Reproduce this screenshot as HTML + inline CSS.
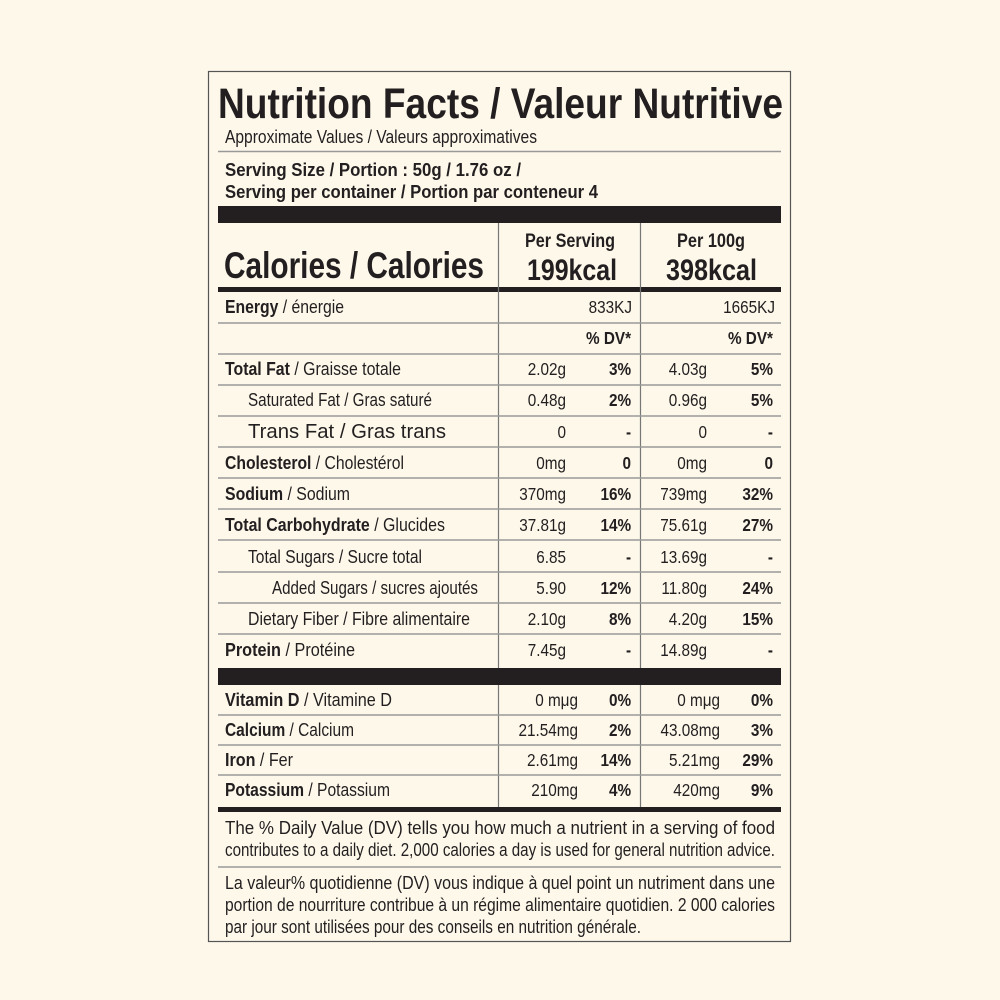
<!DOCTYPE html>
<html><head><meta charset="utf-8"><style>
html,body{margin:0;padding:0;background:#fdf8ea;}
svg{display:block}
text{font-family:"Liberation Sans",sans-serif;fill:#231f20;}
.b{font-weight:bold}
</style></head><body>
<svg width="1000" height="1000" viewBox="0 0 1000 1000" xmlns="http://www.w3.org/2000/svg">
<rect x="0" y="0" width="1000" height="1000" fill="#fdf8ea"/>
<rect x="208.5" y="71.5" width="582" height="870" fill="none" stroke="#555" stroke-width="1.2"/>
<text class="b" x="218" y="118" font-size="43" textLength="565" lengthAdjust="spacingAndGlyphs">Nutrition Facts / Valeur Nutritive</text>
<text x="225" y="143" font-size="18" textLength="312" lengthAdjust="spacingAndGlyphs">Approximate Values / Valeurs approximatives</text>
<line x1="218" y1="151.5" x2="781" y2="151.5" stroke="#999" stroke-width="1.5"/>
<text class="b" x="225" y="176" font-size="18" textLength="296" lengthAdjust="spacingAndGlyphs">Serving Size / Portion : 50g / 1.76 oz /</text>
<text class="b" x="225" y="198" font-size="18" textLength="373" lengthAdjust="spacingAndGlyphs">Serving per container / Portion par conteneur  4</text>
<rect x="218" y="206" width="563" height="17" fill="#231f20"/>
<text class="b" x="224" y="278" font-size="37" textLength="260" lengthAdjust="spacingAndGlyphs">Calories / Calories</text>
<text class="b" x="525" y="247" font-size="19" textLength="90" lengthAdjust="spacingAndGlyphs">Per Serving</text>
<text class="b" x="527" y="280" font-size="30" textLength="90" lengthAdjust="spacingAndGlyphs">199kcal</text>
<text class="b" x="677" y="247" font-size="19" textLength="68" lengthAdjust="spacingAndGlyphs">Per 100g</text>
<text class="b" x="666" y="280" font-size="30" textLength="91" lengthAdjust="spacingAndGlyphs">398kcal</text>
<rect x="218" y="287" width="563" height="5" fill="#231f20"/>
<line x1="498.5" y1="223" x2="498.5" y2="807" stroke="#777" stroke-width="1.2"/>
<line x1="640.5" y1="223" x2="640.5" y2="807" stroke="#777" stroke-width="1.2"/>
<g stroke="#999" stroke-width="1.5">
<line x1="218" y1="323" x2="781" y2="323"/><line x1="218" y1="354" x2="781" y2="354"/>
<line x1="218" y1="385" x2="781" y2="385"/><line x1="218" y1="416" x2="781" y2="416"/>
<line x1="218" y1="447" x2="781" y2="447"/><line x1="218" y1="478" x2="781" y2="478"/>
<line x1="218" y1="509" x2="781" y2="509"/><line x1="218" y1="540" x2="781" y2="540"/>
<line x1="218" y1="572" x2="781" y2="572"/><line x1="218" y1="603" x2="781" y2="603"/>
<line x1="218" y1="634" x2="781" y2="634"/>
<line x1="218" y1="715" x2="781" y2="715"/><line x1="218" y1="745" x2="781" y2="745"/>
<line x1="218" y1="775" x2="781" y2="775"/>
<line x1="218" y1="867" x2="781" y2="867"/>
</g>
<rect x="218" y="668" width="563" height="17" fill="#231f20"/>
<rect x="218" y="807" width="563" height="5" fill="#231f20"/>
<g font-size="18">
<text x="225" y="313" textLength="119" lengthAdjust="spacingAndGlyphs"><tspan class="b">Energy</tspan> / énergie</text>
<text x="225" y="375" textLength="176" lengthAdjust="spacingAndGlyphs"><tspan class="b">Total Fat</tspan> / Graisse totale</text>
<text x="248" y="406" textLength="184" lengthAdjust="spacingAndGlyphs">Saturated Fat / Gras saturé</text>
<text x="248" y="438" font-size="20" textLength="198" lengthAdjust="spacingAndGlyphs">Trans Fat / Gras trans</text>
<text x="225" y="469" textLength="179" lengthAdjust="spacingAndGlyphs"><tspan class="b">Cholesterol</tspan> / Cholestérol</text>
<text x="225" y="500" textLength="125" lengthAdjust="spacingAndGlyphs"><tspan class="b">Sodium</tspan> / Sodium</text>
<text x="225" y="531" textLength="220" lengthAdjust="spacingAndGlyphs"><tspan class="b">Total Carbohydrate</tspan> / Glucides</text>
<text x="248" y="563" textLength="174" lengthAdjust="spacingAndGlyphs">Total Sugars / Sucre total</text>
<text x="272" y="594" textLength="206" lengthAdjust="spacingAndGlyphs">Added Sugars / sucres ajoutés</text>
<text x="248" y="625" textLength="222" lengthAdjust="spacingAndGlyphs">Dietary Fiber / Fibre alimentaire</text>
<text x="225" y="656" textLength="130" lengthAdjust="spacingAndGlyphs"><tspan class="b">Protein</tspan> / Protéine</text>
<text x="225" y="706" textLength="167" lengthAdjust="spacingAndGlyphs"><tspan class="b">Vitamin D</tspan> / Vitamine D</text>
<text x="225" y="736" textLength="129" lengthAdjust="spacingAndGlyphs"><tspan class="b">Calcium</tspan> / Calcium</text>
<text x="225" y="766" textLength="68" lengthAdjust="spacingAndGlyphs"><tspan class="b">Iron</tspan> / Fer</text>
<text x="225" y="796" textLength="165" lengthAdjust="spacingAndGlyphs"><tspan class="b">Potassium</tspan> / Potassium</text>
</g>
<g font-size="18" text-anchor="end" transform="scale(0.85,1)">
<text x="743.5" y="313">833KJ</text><text x="911.8" y="313">1665KJ</text>
<text class="b" x="742.4" y="344">% DV*</text><text class="b" x="909.4" y="344">% DV*</text>
<text x="665.9" y="375">2.02g</text><text class="b" x="742.4" y="375">3%</text><text x="831.8" y="375">4.03g</text><text class="b" x="909.4" y="375">5%</text>
<text x="665.9" y="406">0.48g</text><text class="b" x="742.4" y="406">2%</text><text x="831.8" y="406">0.96g</text><text class="b" x="909.4" y="406">5%</text>
<text x="665.9" y="438">0</text><text class="b" x="742.4" y="438">-</text><text x="831.8" y="438">0</text><text class="b" x="909.4" y="438">-</text>
<text x="665.9" y="469">0mg</text><text class="b" x="742.4" y="469">0</text><text x="831.8" y="469">0mg</text><text class="b" x="909.4" y="469">0</text>
<text x="665.9" y="500">370mg</text><text class="b" x="742.4" y="500">16%</text><text x="831.8" y="500">739mg</text><text class="b" x="909.4" y="500">32%</text>
<text x="665.9" y="531">37.81g</text><text class="b" x="742.4" y="531">14%</text><text x="831.8" y="531">75.61g</text><text class="b" x="909.4" y="531">27%</text>
<text x="665.9" y="563">6.85</text><text class="b" x="742.4" y="563">-</text><text x="831.8" y="563">13.69g</text><text class="b" x="909.4" y="563">-</text>
<text x="665.9" y="594">5.90</text><text class="b" x="742.4" y="594">12%</text><text x="831.8" y="594">11.80g</text><text class="b" x="909.4" y="594">24%</text>
<text x="665.9" y="625">2.10g</text><text class="b" x="742.4" y="625">8%</text><text x="831.8" y="625">4.20g</text><text class="b" x="909.4" y="625">15%</text>
<text x="665.9" y="656">7.45g</text><text class="b" x="742.4" y="656">-</text><text x="831.8" y="656">14.89g</text><text class="b" x="909.4" y="656">-</text>
<text x="680" y="706">0 mμg</text><text class="b" x="742.4" y="706">0%</text><text x="847.1" y="706">0 mμg</text><text class="b" x="909.4" y="706">0%</text>
<text x="680" y="736">21.54mg</text><text class="b" x="742.4" y="736">2%</text><text x="847.1" y="736">43.08mg</text><text class="b" x="909.4" y="736">3%</text>
<text x="680" y="766">2.61mg</text><text class="b" x="742.4" y="766">14%</text><text x="847.1" y="766">5.21mg</text><text class="b" x="909.4" y="766">29%</text>
<text x="680" y="796">210mg</text><text class="b" x="742.4" y="796">4%</text><text x="847.1" y="796">420mg</text><text class="b" x="909.4" y="796">9%</text>
</g>
<g font-size="18">
<text x="225" y="834" textLength="550" lengthAdjust="spacingAndGlyphs">The % Daily Value (DV) tells you how much a nutrient in a serving of food</text>
<text x="225" y="856" textLength="550" lengthAdjust="spacingAndGlyphs">contributes to a daily diet. 2,000 calories a day is used for general nutrition advice.</text>
<text x="225" y="889" textLength="550" lengthAdjust="spacingAndGlyphs">La valeur% quotidienne (DV) vous indique à quel point un nutriment dans une</text>
<text x="225" y="911" textLength="550" lengthAdjust="spacingAndGlyphs">portion de nourriture contribue à un régime alimentaire quotidien. 2 000 calories</text>
<text x="225" y="933" textLength="416" lengthAdjust="spacingAndGlyphs">par jour sont utilisées pour des conseils en nutrition générale.</text>
</g>
</svg>
</body></html>
